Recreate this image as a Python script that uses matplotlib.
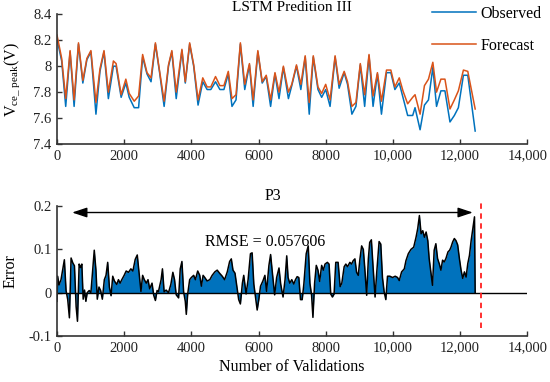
import matplotlib
matplotlib.use('Agg')

import matplotlib.pyplot as plt

plt.rcParams['font.family'] = ['Liberation Serif', 'DejaVu Serif']
plt.rcParams['mathtext.fontset'] = 'custom'
plt.rcParams['mathtext.rm'] = 'Liberation Serif'
plt.rcParams['mathtext.it'] = 'Liberation Serif:italic'

BLUE = "#0072BD"
ORANGE = "#D95319"
AXIS = "#333333"

# top panel: observed vs forecast Vce_peak
obs_x = [0, 140, 260, 390, 510, 640, 770, 890, 1010, 1160,
         1280, 1400, 1530, 1680, 1760, 1910, 2050, 2150, 2300, 2430,
         2550, 2680, 2800, 2930, 3050, 3190, 3320, 3420, 3550, 3720,
         3820, 3950, 4070, 4200, 4340, 4470, 4580, 4720, 4850, 4970,
         5100, 5210, 5330, 5460, 5590, 5730, 5840, 5980, 6110, 6230,
         6360, 6490, 6610, 6740, 6890, 6990, 7130, 7260, 7390, 7510,
         7630, 7770, 7880, 8000, 8130, 8280, 8400, 8550, 8650, 8780,
         8900, 9030, 9160, 9290, 9410, 9540, 9660, 9810, 9940, 10060,
         10190, 10300, 10440, 10590, 10660, 10810, 10940, 11060, 11190, 11300,
         11430, 11550, 11700, 11830, 11950, 12100, 12230, 12450]

observed = [8.21, 8.04, 7.69, 8.11, 7.69, 8.17, 7.87, 8.05, 8.11, 7.63,
            7.96, 8.11, 7.75, 8.00, 8.00, 7.76, 7.87, 7.76, 7.68, 7.68,
            8.07, 7.94, 7.88, 8.17, 7.96, 7.69, 8.00, 8.11, 7.75, 8.12,
            7.87, 8.17, 8.00, 7.70, 7.88, 7.82, 7.82, 7.88, 7.82, 7.82,
            7.94, 7.69, 7.74, 8.17, 7.82, 8.01, 7.69, 8.11, 7.87, 7.92,
            7.69, 7.94, 7.75, 7.99, 7.75, 7.85, 8.00, 7.82, 8.07, 7.63,
            8.07, 7.82, 7.76, 7.82, 7.69, 8.07, 7.83, 7.95, 7.86, 7.63,
            7.69, 8.01, 7.69, 8.08, 7.69, 7.94, 7.63, 7.95, 7.95, 7.82,
            7.87, 7.76, 7.62, 7.62, 7.68, 7.51, 7.70, 7.74, 7.99, 7.69,
            7.81, 7.81, 7.57, 7.62, 7.68, 7.93, 7.93, 7.50]

forecast = [8.24, 8.06, 7.75, 8.12, 7.74, 8.18, 7.89, 8.06, 8.12, 7.72,
            7.98, 8.12, 7.80, 8.04, 8.02, 7.78, 7.90, 7.79, 7.73, 7.77,
            8.09, 7.95, 7.91, 8.18, 7.97, 7.73, 8.01, 8.12, 7.80, 8.13,
            7.88, 8.18, 8.01, 7.74, 7.91, 7.84, 7.84, 7.92, 7.85, 7.85,
            7.96, 7.75, 7.78, 8.18, 7.86, 8.02, 7.74, 8.12, 7.88, 7.93,
            7.74, 7.95, 7.80, 8.00, 7.80, 7.86, 8.01, 7.86, 8.08, 7.72,
            8.08, 7.84, 7.79, 7.86, 7.74, 8.08, 7.86, 7.96, 7.88, 7.69,
            7.72, 8.02, 7.78, 8.09, 7.77, 7.95, 7.73, 7.97, 7.97, 7.84,
            7.91, 7.81, 7.71, 7.76, 7.78, 7.63, 7.85, 7.90, 8.03, 7.80,
            7.90, 7.90, 7.67, 7.74, 7.81, 7.97, 7.96, 7.67]

# bottom panel: prediction error (x, error)
err_points = [
    (0, -0.02), (20, 0.038), (60, 0.018), (120, 0.03), (160, 0.049), (220, 0.076),
    (270, 0.005), (320, -0.016), (370, -0.058), (420, 0.08), (470, 0.069), (520, 0.062),
    (570, -0.032), (610, -0.066), (660, 0.066), (700, 0.058), (740, 0.066), (780, -0.015),
    (820, 0.006), (860, -0.02), (900, 0.0), (960, 0.005), (1010, 0.0), (1070, 0.059),
    (1110, 0.098), (1160, 0.052), (1200, -0.015), (1250, 0.013), (1300, 0.005), (1350, -0.015),
    (1410, 0.03), (1460, 0.04), (1510, 0.07), (1560, 0.013), (1610, -0.007), (1660, 0.038),
    (1710, 0.027), (1780, 0.019), (1830, 0.03), (1880, 0.022), (1930, 0.03), (2000, 0.04),
    (2060, 0.05), (2130, 0.047), (2200, 0.055), (2260, 0.05), (2330, 0.077), (2390, 0.087),
    (2450, 0.04), (2500, 0.003), (2550, 0.04), (2600, 0.03), (2660, 0.022), (2710, 0.03),
    (2760, 0.009), (2830, 0.022), (2880, -0.006), (2930, -0.018), (2980, 0.005), (3020, 0.002),
    (3100, 0.03), (3140, 0.055), (3190, 0.002), (3250, 0.006), (3320, 0.0), (3390, 0.019),
    (3450, 0.047), (3500, 0.03), (3550, -0.005), (3620, -0.012), (3670, 0.055), (3720, 0.072),
    (3770, 0.002), (3820, -0.02), (3850, -0.05), (3890, -0.004), (3950, 0.03), (4000, 0.035),
    (4070, 0.04), (4120, 0.03), (4190, 0.05), (4250, 0.04), (4300, 0.015), (4350, 0.04),
    (4400, 0.035), (4470, 0.027), (4550, 0.03), (4620, 0.04), (4700, 0.048), (4770, 0.052),
    (4840, 0.045), (4920, 0.038), (4990, 0.03), (5070, 0.048), (5140, 0.072), (5190, 0.078),
    (5240, 0.052), (5300, 0.045), (5370, 0.005), (5410, -0.016), (5460, -0.026), (5520, 0.022),
    (5560, 0.04), (5630, -0.003), (5690, 0.03), (5760, 0.09), (5810, 0.092), (5860, 0.02),
    (5920, -0.015), (5960, -0.04), (6010, -0.015), (6060, 0.015), (6130, 0.027), (6190, 0.04),
    (6240, 0.003), (6310, 0.063), (6360, 0.088), (6410, 0.048), (6480, -0.005), (6540, 0.035),
    (6610, 0.057), (6660, 0.02), (6730, -0.01), (6790, 0.03), (6840, 0.085), (6880, 0.035),
    (6930, 0.022), (6990, 0.03), (7050, 0.02), (7100, 0.03), (7150, 0.037), (7200, 0.035),
    (7250, -0.016), (7300, -0.016), (7350, 0.02), (7420, 0.09), (7480, 0.108), (7530, 0.022),
    (7580, -0.006), (7620, -0.057), (7670, 0.022), (7720, 0.063), (7770, 0.052), (7820, 0.026),
    (7880, 0.063), (7930, 0.052), (7980, 0.066), (8050, 0.07), (8100, 0.066), (8150, -0.003),
    (8200, -0.01), (8250, -0.003), (8300, 0.07), (8370, 0.07), (8430, 0.014), (8480, 0.022),
    (8550, 0.06), (8600, 0.066), (8650, 0.06), (8720, 0.07), (8770, 0.066), (8820, 0.074),
    (8870, 0.078), (8920, 0.047), (8970, 0.04), (9020, 0.078), (9070, 0.108), (9120, 0.1),
    (9160, 0.06), (9220, -0.006), (9270, 0.078), (9310, 0.116), (9360, 0.122), (9410, 0.06),
    (9470, -0.01), (9520, 0.047), (9590, 0.118), (9640, 0.112), (9690, 0.035), (9740, 0.002),
    (9790, -0.016), (9840, 0.038), (9910, 0.038), (9990, 0.035), (10070, 0.038), (10140, 0.035),
    (10190, 0.028), (10260, 0.048), (10340, 0.055), (10390, 0.074), (10460, 0.09), (10540, 0.1),
    (10620, 0.105), (10690, 0.128), (10740, 0.148), (10790, 0.178), (10840, 0.136), (10890, 0.143),
    (10940, 0.128), (10990, 0.14), (11040, 0.12), (11080, 0.079), (11130, 0.048), (11180, 0.017),
    (11230, 0.098), (11280, 0.113), (11330, 0.079), (11380, 0.067), (11430, 0.052), (11480, 0.075),
    (11530, 0.071), (11580, 0.079), (11640, 0.094), (11690, 0.098), (11730, 0.105), (11780, 0.117),
    (11830, 0.125), (11880, 0.12), (11930, 0.11), (11980, 0.079), (12030, 0.052), (12080, 0.033),
    (12130, 0.048), (12180, 0.036), (12230, 0.067), (12280, 0.086), (12330, 0.12), (12380, 0.148),
    (12430, 0.175), (12450, 0.0),
]
err_x = [p[0] for p in err_points]
err_val = [p[1] for p in err_points]

x_ticks = [0, 2000, 4000, 6000, 8000, 10000, 12000, 14000]
x_tick_labels = ["0", "2000", "4000", "6000", "8000", "10,000", "12,000", "14,000"]
v_ticks = [7.4, 7.6, 7.8, 8.0, 8.2, 8.4]
v_tick_labels = ["7.4", "7.6", "7.8", "8", "8.2", "8.4"]
e_ticks = [-0.1, 0, 0.1, 0.2]
e_tick_labels = ["-0.1", "0", "0.1", "0.2"]

split_x = 12630
arrow_start, arrow_end, arrow_y = 450, 12380, 0.185
rmse_text = "RMSE = 0.057606"


def style_axes(ax):
    for s in ["top", "right"]:
        ax.spines[s].set_visible(False)
    for s in ["left", "bottom"]:
        ax.spines[s].set_color(AXIS)
        ax.spines[s].set_linewidth(1.2)
    ax.tick_params(direction="in", length=3.5, width=1.0, color=AXIS,
                   labelsize=10.5, labelcolor="#222222", pad=4)
    ax.set_xlim(0, 14000)
    ax.set_xticks(x_ticks)
    ax.set_xticklabels(x_tick_labels)


fig = plt.figure(figsize=(5.5, 3.82), dpi=100)

# top panel
ax1 = fig.add_axes([0.1036, 0.623, 0.855, 0.3396])
style_axes(ax1)
ax1.plot(obs_x, observed, color=BLUE, lw=1.1, label="Observed")
ax1.plot(obs_x, forecast, color=ORANGE, lw=1.1, label="Forecast")
ax1.set_ylim(7.4, 8.4)
ax1.set_yticks(v_ticks)
ax1.set_yticklabels(v_tick_labels)
ax1.set_ylabel(r"V$_{\mathrm{ce\_\ peak}}$(V)", fontsize=11.5)
ax1.yaxis.set_label_coords(-0.074, 0.5)
ax1.set_title("LSTM Predition III", fontsize=11, pad=1)
ax1.legend(loc="upper left", bbox_to_anchor=(0.785, 0.985),
           bbox_transform=fig.transFigure, frameon=False, fontsize=11.5,
           handlelength=2.8, handletextpad=0.25, labelspacing=1.0,
           borderpad=0, borderaxespad=0)

# bottom panel
ax2 = fig.add_axes([0.1036, 0.1204, 0.855, 0.3403])
style_axes(ax2)
ax2.fill_between(err_x, 0, err_val, color=BLUE, lw=0)
ax2.plot(err_x, err_val, color="black", lw=1.1)
ax2.axhline(0, color="black", lw=1.0)
ax2.set_ylim(-0.1, 0.2)
ax2.set_yticks(e_ticks)
ax2.set_yticklabels(e_tick_labels)
ax2.set_ylabel("Error", fontsize=11.5)
ax2.yaxis.set_label_coords(-0.082, 0.5)
ax2.set_xlabel("Number of Validations", fontsize=11.5, labelpad=3)

ax2.axvline(split_x, ymin=0.06, ymax=1.05, color="#FF2020", lw=1.3,
            ls=(0, (3, 2.5)), clip_on=False)
ax2.annotate("", xy=(arrow_start, arrow_y), xytext=(arrow_end, arrow_y),
             arrowprops=dict(arrowstyle="<|-|>,head_length=0.9,head_width=0.3",
                             color="black", lw=1.0, shrinkA=0, shrinkB=0),
             annotation_clip=False)
ax2.text(6420, 0.222, "P3", ha="center", va="center", fontsize=11.5)
ax2.text(6210, 0.118, rmse_text, ha="center", va="center", fontsize=11.5)

plt.savefig("out.png", dpi=100)
plt.close("all")
